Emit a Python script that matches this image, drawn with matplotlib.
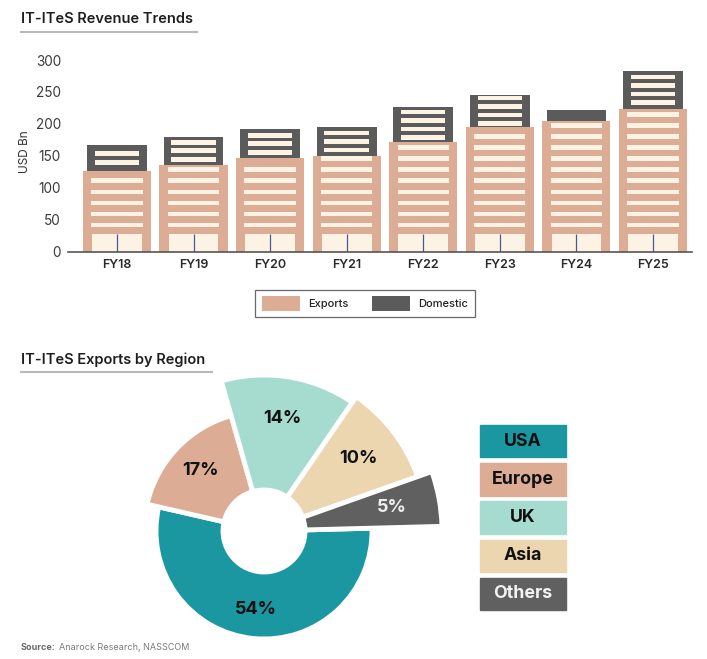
import numpy as np
import matplotlib
matplotlib.use("Agg")
import matplotlib.pyplot as plt
from matplotlib.patches import Patch, Rectangle
from matplotlib.lines import Line2D

# ---------------- data ----------------
years = ["FY18", "FY19", "FY20", "FY21", "FY22", "FY23", "FY24", "FY25"]
exports = [126, 136, 146, 150, 171, 195, 205, 224]
domestic = [41, 44, 46, 45, 55, 51, 16, 59]
y_ticks = [0, 50, 100, 150, 200, 250, 300]

regions = ["USA", "Europe", "UK", "Asia", "Others"]
shares = [54, 17, 14, 10, 5]

# ---------------- style ----------------
plt.rcParams["font.family"] = ["Inter", "DejaVu Sans"]
EXP = "#DCAD94"
DOM = "#5B5B5B"
CREAM = "#FDF3E4"
DOOR_LINE = "#4A5896"
pie_colors = ["#1A97A1", "#DCAD94", "#A6DCCF", "#EBD6B0", "#5F605F"]
pie_text = ["#111111", "#111111", "#111111", "#111111", "#EEEEEE"]
leg_text = ["#111111", "#111111", "#111111", "#111111", "#F2F2F2"]

W, H = 707, 659
fig = plt.figure(figsize=(W / 100, H / 100), dpi=100)


def fx(px):
    return px / W


def fy(py):
    return 1 - py / H


# ---------------- titles ----------------
def title(text, x, base, uline_y, uline_x2):
    fig.text(fx(x), fy(base), text, fontsize=10.5, weight="semibold",
             color="#1E1E1E", ha="left", va="baseline")
    fig.add_artist(Line2D([fx(21), fx(uline_x2)], [fy(uline_y)] * 2,
                          transform=fig.transFigure, color="#B8B8B8", lw=1.5))


title("IT-ITeS Revenue Trends", 21, 23.3, 31.7, 196.7)
title("IT-ITeS Exports by Region", 21, 364, 371.7, 211.7)

# ---------------- bar chart ----------------
ax = fig.add_axes([fx(68), fy(251.7), fx(692) - fx(68), fy(60) - fy(251.7)])
x = np.arange(len(years))
ax.bar(x, exports, width=0.89, color=EXP, zorder=2)
ax.bar(x, domestic, bottom=exports, width=0.78, color=DOM, zorder=2)

# building decoration derived from the values
door_h = 28
ax.bar(x, [door_h] * len(x), width=0.65, color=CREAM, zorder=3)
ax.vlines(x, 0, door_h, color=DOOR_LINE, lw=0.9, zorder=4)

stripe_t = 7.4
for i, v in enumerate(exports):
    n = int((v - 45) / 17.5) + 1
    bottoms = [38 + k * 17.3 for k in range(n)]
    ax.bar([x[i]] * n, [stripe_t] * n, bottom=bottoms, width=0.67,
           color=CREAM, zorder=3)

for i, (e, d) in enumerate(zip(exports, domestic)):
    n = int((d - 13) / 9.5)
    if n <= 0:
        continue
    step = 13.3
    total = n * stripe_t + (n - 1) * (step - stripe_t)
    start = e + d / 2 - total / 2
    bottoms = [start + k * step for k in range(n)]
    ax.bar([x[i]] * n, [stripe_t] * n, bottom=bottoms, width=0.58,
           color=CREAM, zorder=3)

ax.set_xlim(-0.64, 7.51)
ax.set_ylim(0, 300)
ax.set_yticks(y_ticks)
ax.set_yticklabels([str(t) for t in y_ticks], fontsize=9.8, color="#3A3A3A")
ax.set_xticks(x)
ax.set_xticklabels(years, fontsize=9, weight="semibold", color="#2A2A2A")
ax.tick_params(axis="y", length=0, pad=5)
ax.tick_params(axis="x", length=0, pad=5)
for s in ["top", "right", "left"]:
    ax.spines[s].set_visible(False)
ax.spines["bottom"].set_color("#555555")
ax.spines["bottom"].set_linewidth(1.2)
ax.spines["bottom"].set_zorder(5)
fig.text(fx(24.5), fy(152), "USD Bn", rotation=90, fontsize=8.5,
         color="#333333", ha="center", va="center")

handles = [Patch(facecolor=EXP, edgecolor="none", label="Exports"),
           Patch(facecolor=DOM, edgecolor="none", label="Domestic")]
leg = fig.legend(handles=handles, loc="center",
                 bbox_to_anchor=(fx(365), fy(303.5)), ncol=2, fontsize=8,
                 handlelength=3.4, handleheight=1.6, handletextpad=0.7,
                 columnspacing=2.2, borderpad=0.6, fancybox=False,
                 frameon=True)
leg.get_frame().set_edgecolor("#444444")
leg.get_frame().set_linewidth(0.9)
for t in leg.get_texts():
    t.set_color("#222222")
    t.set_weight("medium")

# ---------------- donut ----------------
cx, cy = 264, 531
px0, px1, py0, py1 = 100, 470, 340, 650
pax = fig.add_axes([fx(px0), fy(py1), fx(px1) - fx(px0), fy(py0) - fy(py1)])
edge_lw = 3.5
wedges, _ = pax.pie(shares, colors=pie_colors, startangle=1.5,
                    counterclock=False, radius=100,
                    wedgeprops=dict(edgecolor="white", linewidth=edge_lw))
r_in = 41
outer = [108, 120, 156, 163, 178]
for w, r in zip(wedges, outer):
    w.set_radius(r)
    w.set_width(r - r_in)
for w, v, r, c in zip(wedges, shares, outer, pie_text):
    ang = np.deg2rad((w.theta1 + w.theta2) / 2)
    rr = 0.73 * r
    pax.text(rr * np.cos(ang), rr * np.sin(ang), f"{v}%", ha="center",
             va="center", fontsize=13, weight="bold", color=c)
pax.set_xlim(px0 - cx, px1 - cx)
pax.set_ylim(cy - py1, cy - py0)
pax.set_aspect("equal")
pax.axis("off")

# region key boxes
for i, (name, col, tc) in enumerate(zip(regions, pie_colors, leg_text)):
    top = 425 + i * 38.2
    fig.add_artist(Rectangle((fx(480), fy(top + 32.3)), fx(566) - fx(480),
                             fy(top) - fy(top + 32.3),
                             transform=fig.transFigure, color=col))
    fig.text(fx(523), fy(top + 16.2), name, ha="center", va="center",
             fontsize=12.8, weight="bold", color=tc)

# ---------------- source ----------------
s1 = fig.text(fx(21), fy(650), "Source:", fontsize=6.5, weight="bold",
              color="#6A6A6A", ha="left", va="baseline")
renderer = fig.canvas.get_renderer()
bb = s1.get_window_extent(renderer=renderer)
fig.text(bb.x1 / W + fx(3), fy(650), "Anarock Research, NASSCOM",
         fontsize=6.5, color="#7A7A7A", ha="left", va="baseline")

fig.savefig("out.png", dpi=100, facecolor="white")
